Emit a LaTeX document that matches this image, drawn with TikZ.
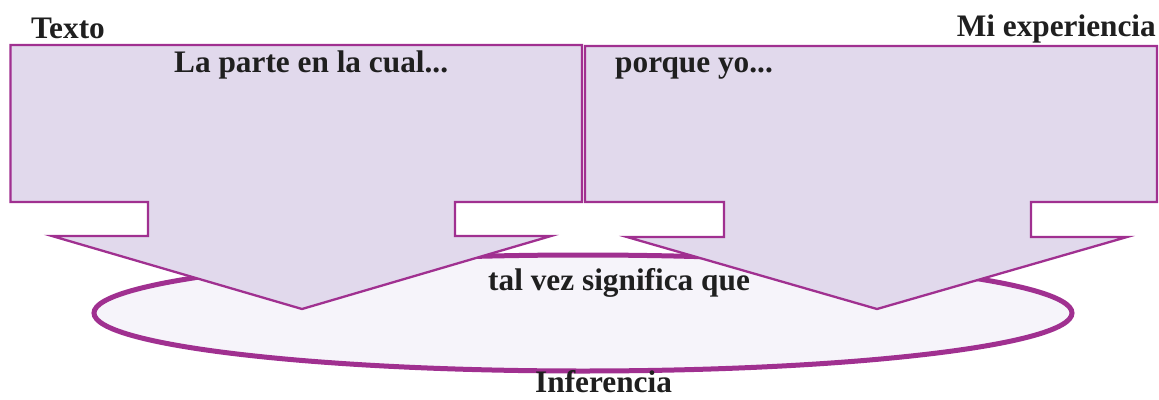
\documentclass[tikz,border=0pt]{standalone}
\usepackage{fontspec}
\setmainfont{Liberation Serif}
\usetikzlibrary{shapes.geometric}
\definecolor{plum}{RGB}{160,48,144}
\definecolor{arrowfill}{RGB}{225,217,236}
\definecolor{ellfill}{RGB}{246,244,250}
\tikzset{
  bigarrow/.style={draw=plum, line width=2.3pt, fill=arrowfill, line join=miter},
  lbl/.style={inner sep=0pt, font=\fontsize{31.3}{31.3}\selectfont\bfseries, text=black!88},
}
\begin{document}
\begin{tikzpicture}[x=1pt,y=-1pt]
\useasboundingbox (0,0) rectangle (1159,399);
% ellipse
\node[ellipse, draw=plum, line width=5pt, fill=ellfill, minimum width=978pt, minimum height=116pt, inner sep=0pt] (ell) at (583,313) {};
% left arrow
\draw[bigarrow] (10.5,45) -- (582,45) -- (582,202) -- (455,202) -- (455,236) -- (551,236) -- (302,309) -- (52,236) -- (148,236) -- (148,202) -- (10.5,202) -- cycle;
% right arrow
\draw[bigarrow] (585,46) -- (1157,46) -- (1157,202) -- (1031,202) -- (1031,237) -- (1127,237) -- (877,309) -- (627,237) -- (724,237) -- (724,202) -- (585,202) -- cycle;
% texts
\node[lbl, anchor=base west] (texto) at (31,38) {Texto};
\node[lbl, anchor=base east] (miexp) at (1156,36) {Mi experiencia};
\node[lbl, anchor=base west] (parte) at (174,72) {La parte en la cual...};
\node[lbl, anchor=base west] (porque) at (615,72) {porque yo...};
\node[lbl, anchor=base west] (talvez) at (488,290) {tal vez significa que};
\node[lbl, anchor=base west] (infer) at (535,392) {Inferencia};
\end{tikzpicture}
\end{document}
